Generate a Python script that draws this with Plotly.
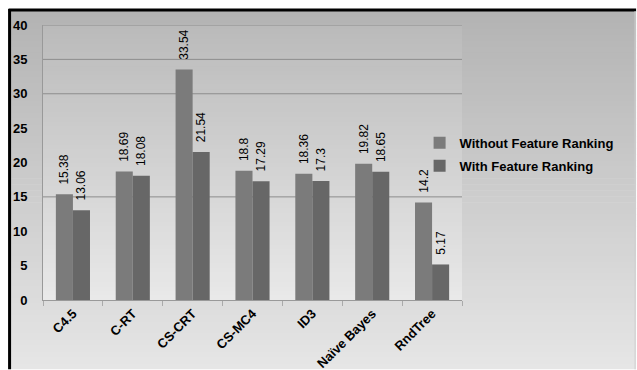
import plotly.graph_objects as go

# Classifier error rates, with and without feature ranking
classifiers = ["C4.5", "C-RT", "CS-CRT", "CS-MC4", "ID3", "Naïve Bayes", "RndTree"]
without_ranking = [15.38, 18.69, 33.54, 18.8, 18.36, 19.82, 14.2]
with_ranking = [13.06, 18.08, 21.54, 17.29, 17.3, 18.65, 5.17]
y_ticks = [0, 5, 10, 15, 20, 25, 30, 35, 40]
grid_values = [15, 30, 35, 40]

W, H = 637, 370
L, R, T, B = 42.5, 174.5, 25, 69.5
PW, PH = W - L - R, H - T - B
FONT = "Liberation Sans, Arial"
PAD = "\u00a0\u00a0"


def px_x(px):
    return (px - L) / PW


def px_y(py):
    return (H - B - py) / PH


def lerp_gray(top, bottom, t):
    v = round(top + (bottom - top) * t)
    return f"rgb({v},{v},{v})"


def gradient_strips(x0, x1, y0, y1, top, bottom, n=60):
    """Vertical gray gradient built from thin horizontal rectangles (pixel coords)."""
    out = []
    h = (y1 - y0) / n
    for i in range(n):
        ya, yb = y0 + i * h, y0 + (i + 1) * h + 0.6
        out.append(dict(
            type="rect", xref="paper", yref="paper", layer="below",
            x0=px_x(x0), x1=px_x(x1), y0=px_y(min(yb, y1)), y1=px_y(ya),
            fillcolor=lerp_gray(top, bottom, (i + 0.5) / n), line=dict(width=0),
        ))
    return out


fig = go.Figure()
for name, values, color in [
    ("Without Feature Ranking", without_ranking, "#7b7b7b"),
    ("With Feature Ranking", with_ranking, "#676767"),
]:
    fig.add_trace(go.Bar(
        x=classifiers, y=values, name=name, legendgroup=name,
        marker=dict(color=color, line=dict(width=0)),
        text=[PAD + str(v) for v in values], textposition="outside", textangle=-90,
        constraintext="none",
        textfont=dict(family=FONT, size=12, color="#000"),
        cliponaxis=False,
    ))

shapes = []
# chart area and plot area backgrounds
shapes += gradient_strips(10, W, 11, H, 0xb3, 0xe6)
shapes += gradient_strips(L, W - R, T, H - B, 0xba, 0xe9)
# horizontal gridlines
shapes += [
    dict(type="line", xref="paper", yref="y", x0=0, x1=1, y0=g, y1=g,
         line=dict(color="#8c8c8c", width=1), layer="below")
    for g in grid_values
]
# frame around the chart
shapes += [
    dict(type="line", xref="paper", yref="paper", x0=px_x(8), x1=px_x(W), y0=px_y(10), y1=px_y(10),
         line=dict(color="#000", width=3)),
    dict(type="line", xref="paper", yref="paper", x0=px_x(9), x1=px_x(9), y0=px_y(9), y1=px_y(H),
         line=dict(color="#000", width=3)),
    dict(type="line", xref="paper", yref="paper", x0=px_x(W - 1), x1=px_x(W - 1), y0=px_y(11), y1=px_y(H),
         line=dict(color="#cfcfcf", width=1)),
]

fig.update_layout(
    width=W, height=H,
    margin=dict(l=L, r=R, t=T, b=B, autoexpand=False),
    paper_bgcolor="white", plot_bgcolor="rgba(0,0,0,0)",
    barmode="group", bargap=0.43, bargroupgap=0,
    shapes=shapes,
    font=dict(family=FONT, color="#000"),
    showlegend=True,
    legend=dict(
        x=px_x(420), y=px_y(128), xanchor="left", yanchor="top",
        bgcolor="rgba(0,0,0,0)", borderwidth=0,
        font=dict(family=FONT, size=13, color="#000", weight="bold"),
        tracegroupgap=3,
    ),
    xaxis=dict(
        showgrid=False, showline=True, linecolor="#999", linewidth=1,
        ticks="outside", tickson="boundaries", ticklen=5, tickcolor="#aaa",
        tickangle=-45, tickfont=dict(size=13, weight="bold", family=FONT),
        zeroline=False,
    ),
    yaxis=dict(
        range=[0, 40], tickvals=y_ticks, showgrid=False, zeroline=False,
        showline=True, linecolor="#999", linewidth=1,
        ticks="", ticklabelstandoff=12,
        tickfont=dict(size=13, weight="bold", family=FONT),
    ),
)

fig.write_html("out.html")
